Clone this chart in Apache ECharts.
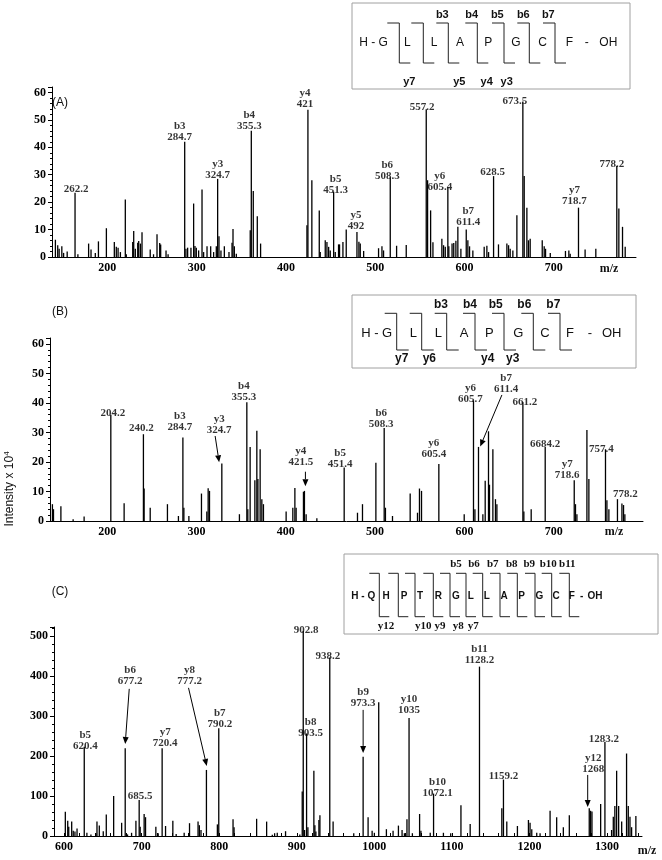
<!DOCTYPE html>
<html><head><meta charset="utf-8">
<script src="https://cdn.jsdelivr.net/npm/echarts@6/dist/echarts.min.js"></script>
<style>html,body{margin:0;padding:0;background:#fff}#c{width:662px;height:860px}</style>
</head><body><div id="c"></div>
<script>
// ---------------- DATA ----------------
// Panel A peaks (m/z, intensity)
const A_mz = [141.8,144.4,146,149,151,155,163.8,167,179,181.7,186.5,190,198.9,207.8,210,212,214.6,220.1,221.2,228.4,229.5,231.3,234,235.1,237,238.8,248,251.7,255.6,258.6,259.7,265.7,268,286.6,288,289.9,293.6,296.6,298.1,299.6,302.2,306,307.8,311.6,315.7,319,322,323.5,325,327.2,331,336.2,339.6,340.7,342.2,344.4,360,361.2,363.4,367.9,371.6,423.5,424.6,429,437.3,438.4,444,445.9,447.8,449.6,453.4,455.2,458.9,460,463.8,467.5,479.5,481.7,483.2,487,503.7,507.5,509.3,516.8,523.9,534.7,557.1,558.6,562,564.6,574.6,576.5,578.4,581.3,582.4,586,587.9,590.3,592.5,595.9,601.9,603.7,605.6,609.3,622,625,626.9,632.5,638,647.4,649.3,651.1,654.1,658.6,665.3,666.8,669.8,671.6,673.5,687,689.2,690.7,696,713,716.8,718.3,727.6,735,747,770.5,772.8,776.9,779.9];
const A_int = [6.3,4.3,3,3.9,1.5,2,23.4,1,4.9,2.7,1.5,5.7,10.5,5.5,3.7,3.4,1.8,21,1,5.5,9.5,3,5.2,5.8,4.9,9,2.7,1,8.3,5.1,4.6,2.4,1,42,3,3.4,3.4,19.5,4,3.4,2.4,24.6,1.8,3.9,3.9,1.8,3.9,28.5,7.6,2.4,3.9,1.8,5.2,10.2,3.9,1.2,9.8,46,24.1,14.9,4.9,11.6,53.7,28,17,1.8,6.1,5.5,3.7,2.4,23.8,1.8,4.6,4.6,5.5,10,9.1,5.6,4.9,2.2,3.2,3.9,2.4,29,4.1,4.4,53.9,28,17,5.4,6.7,4.3,3.7,25.4,3.9,4.9,5.1,5.9,11,3,10,6.1,3.9,2.4,3.7,4.1,1.8,29.5,4.6,4.9,4.3,3,2.4,15.2,56.7,29.5,18,6.1,6.7,6.1,3.9,3,1.5,2.2,2.4,1.2,18,2.7,3,33.2,17.7,11,3.7];
const A_xTicks = [200,300,400,500,600,700];
const A_lblText = ['262.2','b3\n284.7','y3\n324.7','b4\n355.3','y4\n421','b5\n451.3','y5\n492','b6\n508.3','557.2','y6\n605.4','b7\n611.4','628.5','673.5','y7\n718.7','778.2'];
const A_lblX = [163.8,286.6,323.5,361.2,424.6,453.4,479.5,516.8,557.1,581.3,601.9,632.5,665.3,727.6,770.5];
const A_lblY = [23.4,42,28.5,46,53.7,23.8,9.1,29,53.9,25.4,10,29.5,56.7,18,33.2];

// Panel B peaks
const B_mz = [138.7,139.9,148.2,161.9,174.2,204.1,219,240.6,241.4,248.2,267.5,279.8,284.8,285.9,291.5,305.6,311.6,313.1,314.6,328.4,348.1,356.4,357.5,360.1,365.4,367.6,368.8,371.3,373.2,375,400.4,407.9,410.2,411.6,419.8,420.9,422.8,434.8,465.4,480.3,485.9,500.9,510.2,511.6,519.5,539.3,547.5,549.7,552,571.4,599.8,610.2,611.8,615.8,620.7,623.3,627,628.1,631.9,634.8,636.4,665.5,666.6,674.8,690.5,723,724.4,726,737.2,739.4,758,759.6,761.8,771.4,776.4,778.2,779.7];
const B_int = [5.7,4,5,0.6,1.5,36,6,29.4,11,4.5,5.7,1.7,28.3,4.5,1.7,9.3,3.2,11.1,10.2,19.5,2.3,40.2,4,25.1,13.8,30.6,14.2,24.3,7.4,5.7,3.2,4.5,11.2,4.5,9.9,10.2,2.3,0.9,18.1,2.8,5.7,19.7,31.5,4.5,1.7,9.3,2.8,11,10.2,19.3,2.3,40.8,4,25.1,2.3,13.6,30.4,12.3,24.3,7.4,5.7,40.2,3.2,4,25.1,13.8,5.7,2.3,30.8,14.2,24.3,7,4,7.4,5.9,5.4,2.3];
const B_xTicks = [200,300,400,500,600,700];
const B_lblText = ['204.2','240.2','b3\n284.7','b4\n355.3','b5\n451.4','b6\n508.3','y6\n605.4','y6\n605.7','661.2','6684.2','y7\n718.6','757.4','778.2'];
const B_lblX = [204.1,240.6,284.8,356.4,465.4,510.2,571.4,610.2,665.5,690.5,723,758,771.4];
const B_lblY = [36,29.4,28.3,40.2,18.1,31.5,19.3,40.8,40.2,25.1,13.8,24.3,7.4];
const B_arrText = ['y3\n324.7','y4\n421.5','b7\n611.4'];
const B_arrLblX = [325.4,416.8,646.8];
const B_arrLblY = [29.5,18.6,43.6];
const B_arrFrom = [[320.9,28.8],[422,16.7],[642,42.7]];
const B_arrTo = [[325.4,19.9],[422,11.8],[617.7,25.2]];

// Panel C peaks
const C_mz = [601.6,604.7,606,609.8,611.8,614,616.7,626,629.4,634.6,641.1,642.4,645.4,650.5,654.4,663.9,674.2,678.8,681.8,687,692.6,696.8,698.1,703.2,705,718.3,721.3,726.4,730.8,740.2,744.5,754.8,761.7,772.7,774.4,776.5,783.5,797.6,799.4,817.8,819.1,848.2,861.1,868.4,871.4,874.8,885.5,903.9,907,908.3,910,912.6,914.3,922,923.3,924.6,928.5,929.8,942.5,946.8,973.4,985.5,991.9,997.1,1000,1005.6,1015.5,1024.1,1031,1035.7,1038.7,1042,1044.7,1049,1058.3,1060,1072,1076.3,1089,1098.4,1111.6,1123.5,1135.5,1164.3,1166.4,1170.7,1184.4,1198.6,1200.7,1202.9,1209.3,1213.6,1226.5,1235,1243.6,1251.3,1277,1278.7,1280.5,1291.7,1297.2,1305.8,1308,1310,1312.3,1314.9,1318.8,1325.1,1327.3,1329.5,1331.6,1337.1];
const C_int = [60.7,38,23,36,13,11,19,223,8,4,7,36,26,12,54,100,33,219,4,8,38,90,23,55,47,23,7,219,25,38,5,8,32,36,27,15,165,29,269,42,22,43,36,3,7,8,12,4,111,512,15,256,22,163,27,11,40,52,446,36,7,198,47,13,8,334,17,13,26,15,7,42,295,7,55,13,8,106,8,7,77,30,423,69,141,36,25,40,33,17,8,7,63,47,22,52,69,63,61,80,235,15,48,75,163,75,36,206,75,48,22,50];
const C_xTicks = [600,700,800,900,1000,1100,1200,1300];
const C_lblText = ['b5\n620.4','y7\n720.4','685.5','b7\n790.2','902.8','b8\n903.5','938.2','y10\n1035','b10\n1072.1','b11\n1128.2','1159.2','1283.2'];
const C_lblX = [626,726.4,696.8,799.4,908.3,912.6,942.5,1044.7,1076.3,1135.5,1166.4,1297.2];
const C_lblY = [223,219,90,269,512,256,446,295,106,423,141,235];
const C_arrText = ['b6\n677.2','y8\n777.2','b9\n973.3','y12\n1268'];
const C_arrLblX = [685.2,761.7,985.5,1282.2];
const C_arrLblY = [377.5,379,323,158];
const C_arrFrom = [[684,367.5],[760.4,370],[985.5,315],[1275,152.5]];
const C_arrTo = [[678.8,230],[783.9,175],[985.5,207.5],[1275,72.5]];

// ---------------- LAYOUT / STYLE ----------------
const serif = '"Liberation Serif","Times New Roman",serif';
const sans = '"Liberation Sans",Arial,sans-serif';
const A_off = [[1,0],[-5,-1],[0,0],[-2,-1],[-3,-2],[2,2],[-1,-2],[-3,2],[-4,1],[-8,3],[2,-4],[-1,0],[-8,3],[-4,-3],[-5,2]];
const B_off = [[2,2],[-2,-3],[-3,-7],[-3,-2],[-4,0],[-3,0],[-5,-6],[-3,2],[2,3],[0,1],[-7,-2],[-4,3],[8,-2]];
const C_off = [[1,3],[3,-2],[1,0],[1,-1],[3,3],[4,3],[-2,2],[0,-4],[4,3],[0,-3],[0,0],[-1,1]];

const grids = [
  {left:52, right:26, top:87, bottom:603},
  {left:50, right:19, top:338, bottom:339},
  {left:54, right:20, top:627, bottom:24}
];

const axLbl = {color:'#000', fontFamily:serif, fontWeight:'bold', fontSize:12};
function xAx(gi, min, max, ticks, tickVals) {
  return {gridIndex:gi, type:'value', min:min, max:max,
    axisLine:{show:true, onZero:false, lineStyle:{color:'#000', width:1}},
    axisTick: tickVals ? {show:true, inside:true, length:3, customValues:tickVals, lineStyle:{color:'#000'}} : {show:false},
    axisLabel:Object.assign({customValues:ticks, margin:5, formatter:v => String(v)}, axLbl),
    splitLine:{show:false}};
}
function yAx(gi, max, step) {
  return {gridIndex:gi, type:'value', min:0, max:max, interval:step,
    axisLine:{show:true, lineStyle:{color:'#000', width:1}},
    axisTick:{show:true, length:4, lineStyle:{color:'#000'}},
    minorTick:{show:true, splitNumber:5, length:2, lineStyle:{color:'#000'}},
    axisLabel:Object.assign({margin:6, formatter:v => (v % step === 0 ? String(v) : '')}, axLbl),
    splitLine:{show:false}, minorSplitLine:{show:false}};
}

function peakSeries(gi, mz, inten) {
  return {type:'custom', xAxisIndex:gi, yAxisIndex:gi, clip:true, silent:true,
    data: mz.map((m,i) => [m, inten[i]]),
    renderItem:(params, api) => {
      const p0 = api.coord([api.value(0), 0]);
      const p1 = api.coord([api.value(0), api.value(1)]);
      return {type:'line', shape:{x1:p0[0], y1:p0[1], x2:p1[0], y2:p1[1]}, style:{stroke:'#000', lineWidth:1.3}};
    }};
}
function labelSeries(gi, xs, ys, texts, offs) {
  return {type:'scatter', xAxisIndex:gi, yAxisIndex:gi, symbolSize:0, silent:true,
    data: xs.map((x,i) => ({name:texts[i], value:[x, ys[i]], label:{offset:[offs[i][0], offs[i][1]+2]}})),
    label:{show:true, position:'top', distance:0, formatter:'{b}', color:'#000', fontFamily:serif, fontWeight:'bold', fontSize:11, lineHeight:11}};
}
function arrowSeries(gi, from, to) {
  return {type:'custom', xAxisIndex:gi, yAxisIndex:gi, clip:false, silent:true, z:5,
    data: from.map((f,i) => [f[0], f[1], to[i][0], to[i][1]]),
    renderItem:(params, api) => {
      const a = api.coord([api.value(0), api.value(1)]);
      const b = api.coord([api.value(2), api.value(3)]);
      const dx = b[0]-a[0], dy = b[1]-a[1], L = Math.sqrt(dx*dx+dy*dy);
      const ux = dx/L, uy = dy/L, hl = 7, hw = 3;
      const base = [b[0]-ux*hl, b[1]-uy*hl];
      return {type:'group', children:[
        {type:'line', shape:{x1:a[0], y1:a[1], x2:base[0], y2:base[1]}, style:{stroke:'#000', lineWidth:1}},
        {type:'polygon', shape:{points:[[b[0],b[1]],[base[0]-uy*hw, base[1]+ux*hw],[base[0]+uy*hw, base[1]-ux*hw]]}, style:{fill:'#000'}}
      ]};
    }};
}

function txt(t, x, y, font, extra) {
  return Object.assign({type:'text', x:x, y:y, z:20, silent:true,
    style:{text:t, font:font, fill:'#111', align:'center', verticalAlign:'middle', textAlign:'center', textVerticalAlign:'middle'}}, extra || {});
}
function peptideBox(o) {
  const els = [];
  els.push({type:'rect', z:10, silent:true, shape:{x:o.x, y:o.y, width:o.w, height:o.h}, style:{fill:'#fff', stroke:'#a0a0a0', lineWidth:1}});
  o.cuts.forEach(cx => els.push({type:'polyline', z:11, silent:true,
    shape:{points:[[cx-o.sl,o.top],[cx,o.top],[cx,o.bot],[cx+o.sr,o.bot]]},
    style:{stroke:'#222', lineWidth:o.lw, fill:null}}));
  o.res.forEach(r => els.push(txt(r[0], r[1], o.resY, o.resFont)));
  o.bl.forEach(r => els.push(txt(r[0], r[1], o.bY, o.ionFont)));
  o.yl.forEach(r => els.push(txt(r[0], r[1], o.yY, o.ionFont)));
  return els;
}

const boxA = peptideBox({x:352, y:3, w:278, h:86, cuts:[399.3,423.3,448.3,477.3,504,529.3,555], top:23, bot:63, sl:12, sr:11, lw:1,
  resY:43, resFont:'12px '+sans, bY:15, yY:82, ionFont:'bold 11px '+sans,
  res:[['H - G',373.5],['L',407.3],['L',434],['A',460],['P',488.3],['G',516],['C',542.7],['F',569.3],['-',586.7],['OH',608.3]],
  bl:[['b3',442.3],['b4',471.7],['b5',497.3],['b6',523.3],['b7',548.3]],
  yl:[['y7',409.3],['y5',459.3],['y4',486.7],['y3',506.7]]});
const boxB = peptideBox({x:352, y:295, w:284, h:73, cuts:[396.7,421.7,446.7,475,504,533.3,560], top:313.3, bot:350, sl:12, sr:12, lw:1,
  resY:333, resFont:'13px '+sans, bY:305, yY:359, ionFont:'bold 12px '+sans,
  res:[['H - G',376.7],['L',413.3],['L',438.3],['A',464],['P',489.3],['G',518.3],['C',545],['F',570],['-',590],['OH',611.7]],
  bl:[['b3',441],['b4',470],['b5',495.7],['b6',524.3],['b7',553.3]],
  yl:[['y7',401.7],['y6',429.3],['y4',487.7],['y3',512.7]]});
const boxC = peptideBox({x:344, y:554, w:314, h:80, cuts:[379.3,398.3,415,433.3,450,466,482.7,500,517.3,535,551.7,569.3], top:573.3, bot:616.7, sl:10, sr:10, lw:1,
  resY:596, resFont:'bold 10px '+sans, bY:564, yY:626, ionFont:'bold 11px '+serif,
  res:[['H - Q',363.3],['H',386],['P',404],['T',420],['R',438.3],['G',456],['L',470.7],['L',486.7],['A',504],['P',521.7],['G',539.3],['C',556],['F',571.7],['-',581.7],['OH',595]],
  bl:[['b5',456],['b6',474],['b7',492.7],['b8',511.7],['b9',529.3],['b10',548.3],['b11',567.3]],
  yl:[['y12',386],['y10',423.3],['y9',440],['y8',458.3],['y7',473.3]]});

const misc = [
  txt('(A)', 60, 103, '12px '+sans),
  txt('(B)', 60, 312, '12px '+sans),
  txt('(C)', 60, 592, '12px '+sans),
  txt('m/z', 609, 269, 'bold 12px '+serif),
  txt('m/z', 614, 532, 'bold 12px '+serif),
  txt('m/z', 647, 851, 'bold 12px '+serif),
  {type:'text', x:10, y:489, rotation:Math.PI/2, z:20, silent:true,
   style:{text:'Intensity x 10{s|4}', font:'12px '+sans, fill:'#111', align:'center', verticalAlign:'middle', textAlign:'center', textVerticalAlign:'middle',
     rich:{s:{fontSize:8, fontFamily:sans, padding:[0,0,7,0]}}}}
];

const chart = echarts.init(document.getElementById('c'), null, {renderer:'canvas', width:662, height:860});
chart.setOption({
  animation:false,
  backgroundColor:'#fff',
  grid: grids.map(g => Object.assign({containLabel:false, outerBoundsMode:'none'}, g)),
  xAxis:[xAx(0,138,792,A_xTicks), xAx(1,136,800,B_xTicks), xAx(2,587,1345,C_xTicks, [600,620,640,660,680,700,720,740,760,780,800,820,840,860,880,900,920,940,960,980,1000,1020,1040,1060,1080,1100,1120,1140,1160,1180,1200,1220,1240,1260,1280,1300,1320,1340])],
  yAxis:[yAx(0,62,10), yAx(1,62,10), yAx(2,522,100)],
  series:[
    peakSeries(0, A_mz, A_int), labelSeries(0, A_lblX, A_lblY, A_lblText, A_off),
    peakSeries(1, B_mz, B_int), labelSeries(1, B_lblX, B_lblY, B_lblText, B_off),
    labelSeries(1, B_arrLblX, B_arrLblY, B_arrText, B_arrText.map(() => [0,0])), arrowSeries(1, B_arrFrom, B_arrTo),
    peakSeries(2, C_mz, C_int), labelSeries(2, C_lblX, C_lblY, C_lblText, C_off),
    labelSeries(2, C_arrLblX, C_arrLblY, C_arrText, C_arrText.map(() => [0,0])), arrowSeries(2, C_arrFrom, C_arrTo)
  ],
  graphic:{elements: boxA.concat(boxB, boxC, misc)}
});
</script>
</body></html>
